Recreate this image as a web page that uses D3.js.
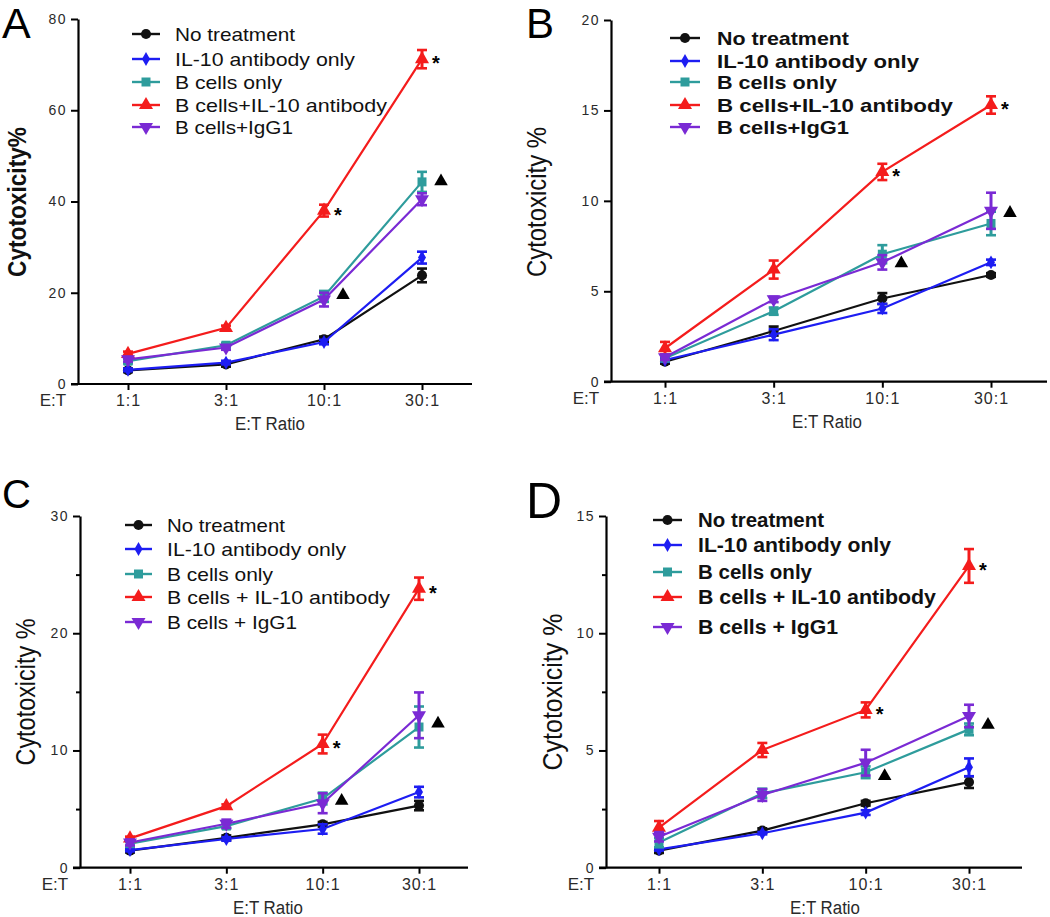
<!DOCTYPE html>
<html>
<head>
<meta charset="utf-8">
<script src="https://cdn.jsdelivr.net/npm/d3@7"></script>
<style>
  html, body { margin: 0; padding: 0; background: #fff; }
  svg { display: block; font-family: "Liberation Sans", Arial, sans-serif; }
</style>
</head>
<body>
<svg id="chart" width="1050" height="917"></svg>
<script>
// ---------- DATA ----------
const categories = ["1:1", "3:1", "10:1", "30:1"];
const seriesKeys = ["none", "il10", "bcells", "bil10", "bigg"];
const legendLabelsAB = ["No treatment", "IL-10 antibody only", "B cells only", "B cells+IL-10 antibody", "B cells+IgG1"];
const legendLabelsCD = ["No treatment", "IL-10 antibody only", "B cells only", "B cells + IL-10 antibody", "B cells + IgG1"];

// Panel A
const aNone  = [3.0, 4.3, 9.8, 23.8];   const aNoneErr  = [0.4, 0.5, 0.6, 1.5];
const aIl10  = [3.1, 4.7, 9.2, 27.7];   const aIl10Err  = [0.3, 0.4, 0.5, 1.3];
const aBcell = [5.0, 8.5, 19.2, 44.3];  const aBcellErr = [0.5, 0.5, 1.2, 2.2];
const aBil10 = [6.6, 12.3, 38.0, 71.2]; const aBil10Err = [0.5, 0.5, 1.3, 2.0];
const aBigg  = [5.4, 8.0, 18.5, 40.5];  const aBiggErr  = [0.5, 0.5, 1.5, 1.3];
const aTriangles = [19.5, 44.4]; // at 10:1 and 30:1

// Panel B
const bNone  = [1.1, 2.8, 4.6, 5.9];    const bNoneErr  = [0.1, 0.25, 0.3, 0.1];
const bIl10  = [1.2, 2.6, 4.05, 6.6];   const bIl10Err  = [0.1, 0.3, 0.25, 0.15];
const bBcell = [1.3, 3.9, 7.05, 8.75];  const bBcellErr = [0.15, 0.2, 0.5, 0.65];
const bBil10 = [1.85, 6.2, 11.6, 15.3]; const bBil10Err = [0.35, 0.5, 0.45, 0.48];
const bBigg  = [1.35, 4.55, 6.6, 9.45]; const bBiggErr  = [0.15, 0.15, 0.4, 1.0];
const bTriangles = [6.55, 9.33];

// Panel C
const cNone  = [1.45, 2.55, 3.7, 5.3];   const cNoneErr  = [0.15, 0.2, 0.2, 0.4];
const cIl10  = [1.5, 2.45, 3.3, 6.45];   const cIl10Err  = [0.1, 0.15, 0.4, 0.45];
const cBcell = [2.05, 3.55, 5.9, 12.0];  const cBcellErr = [0.2, 0.2, 0.5, 1.75];
const cBil10 = [2.5, 5.25, 10.55, 23.8]; const cBil10Err = [0.15, 0.15, 0.8, 0.95];
const cBigg  = [2.15, 3.75, 5.5, 13.0];  const cBiggErr  = [0.25, 0.35, 0.85, 1.95];
const cTriangles = [5.7, 12.3];

// Panel D
const dNone  = [0.73, 1.58, 2.75, 3.65]; const dNoneErr  = [0.1, 0.1, 0.1, 0.25];
const dIl10  = [0.78, 1.47, 2.35, 4.28]; const dIl10Err  = [0.05, 0.05, 0.1, 0.38];
const dBcell = [1.07, 3.17, 4.07, 5.9];  const dBcellErr = [0.2, 0.2, 0.25, 0.25];
const dBil10 = [1.71, 5.02, 6.73, 12.87];const dBil10Err = [0.28, 0.3, 0.32, 0.72];
const dBigg  = [1.32, 3.1, 4.48, 6.47];  const dBiggErr  = [0.2, 0.25, 0.55, 0.48];
const dTriangles = [3.91, 6.09];

const starCategories = ["10:1", "30:1"];
const yTicksA = [0, 20, 40, 60, 80];
const yTicksB = [0, 5, 10, 15, 20];
const yTicksC = [0, 10, 20, 30];
const yTicksD = [0, 5, 10, 15];
const yMinorC = [5, 15, 25];
const yMinorD = [2.5, 7.5, 12.5];

// ---------- STYLE ----------
const colors = { none: "#111111", il10: "#1d1df2", bcells: "#2e9c9c", bil10: "#f41c1c", bigg: "#7a2ad4" };
const symbols = {
  none:   { type: d3.symbolCircle,   size: 80,  rot: 0 },
  il10:   { type: d3.symbolDiamond,  size: 55,  rot: 0 },
  bcells: { type: d3.symbolSquare,   size: 81,  rot: 0 },
  bil10:  { type: d3.symbolTriangle, size: 85,  rot: 0 },
  bigg:   { type: d3.symbolTriangle, size: 85,  rot: 180 }
};

const panels = [
  { letter: "A", letterX: 2, letterY: 38, letterSize: 43,
    axisX: 78, yTop: 19, yBottom: 384, yMax: 80, ticks: yTicksA, minor: [],
    xFirst: 128, xLast: 422, xEnd: 472, ratioX: 270,
    title: "Cytotoxicity%", titleX: 26, titleY: 202, titleSize: 26, titleWeight: "bold", titleLen: 150,
    values: [aNone, aIl10, aBcell, aBil10, aBigg], errs: [aNoneErr, aIl10Err, aBcellErr, aBil10Err, aBiggErr],
    tri: aTriangles, labels: legendLabelsAB,
    legend: { x1: 132, x2: 160, tx: 175, rows: [34, 59, 82, 105, 127], size: 19, weight: "normal",
              lens: [120, 180, 107, 212, 118] } },
  { letter: "B", letterX: 526, letterY: 38, letterSize: 42,
    axisX: 611, yTop: 20, yBottom: 381.7, yMax: 20, ticks: yTicksB, minor: [],
    xFirst: 665, xLast: 991, xEnd: 1047, ratioX: 827,
    title: "Cytotoxicity %", titleX: 546, titleY: 202, titleSize: 27, titleWeight: "normal", titleLen: 150,
    values: [bNone, bIl10, bBcell, bBil10, bBigg], errs: [bNoneErr, bIl10Err, bBcellErr, bBil10Err, bBiggErr],
    tri: bTriangles, labels: legendLabelsAB,
    legend: { x1: 670, x2: 700, tx: 717, rows: [38, 61, 82, 105, 127], size: 18.5, weight: "bold",
              lens: [132, 202, 120, 236, 132] } },
  { letter: "C", letterX: 2, letterY: 508, letterSize: 40,
    axisX: 80, yTop: 516, yBottom: 867.7, yMax: 30, ticks: yTicksC, minor: yMinorC,
    xFirst: 130, xLast: 419, xEnd: 468, ratioX: 268,
    title: "Cytotoxicity %", titleX: 35, titleY: 692, titleSize: 27, titleWeight: "normal", titleLen: 147,
    values: [cNone, cIl10, cBcell, cBil10, cBigg], errs: [cNoneErr, cIl10Err, cBcellErr, cBil10Err, cBiggErr],
    tri: cTriangles, labels: legendLabelsCD,
    legend: { x1: 125, x2: 152, tx: 167, rows: [525, 549, 574, 597, 622], size: 18.5, weight: "normal",
              lens: [118, 179, 106, 223, 130] } },
  { letter: "D", letterX: 526, letterY: 518, letterSize: 50,
    axisX: 606, yTop: 516, yBottom: 867.7, yMax: 15, ticks: yTicksD, minor: yMinorD,
    xFirst: 659, xLast: 969, xEnd: 1022, ratioX: 825,
    title: "Cytotoxicity %", titleX: 562, titleY: 692, titleSize: 28, titleWeight: "normal", titleLen: 157,
    values: [dNone, dIl10, dBcell, dBil10, dBigg], errs: [dNoneErr, dIl10Err, dBcellErr, dBil10Err, dBiggErr],
    tri: dTriangles, labels: legendLabelsCD,
    legend: { x1: 653, x2: 682, tx: 698, rows: [520, 545, 572, 597, 627], size: 20, weight: "bold",
              lens: [126, 193, 114, 238, 140] } }
];

const svg = d3.select("#chart");

function symbolPath(key) {
  return d3.symbol().type(symbols[key].type).size(symbols[key].size)();
}

panels.forEach(p => {
  const g = svg.append("g");
  const x = d3.scalePoint().domain(categories).range([p.xFirst, p.xLast]);
  const y = d3.scaleLinear().domain([0, p.yMax]).range([p.yBottom, p.yTop]);

  // panel letter
  g.append("text").attr("x", p.letterX).attr("y", p.letterY)
    .attr("font-size", p.letterSize).attr("fill", "#000").text(p.letter);

  // y axis
  const yAxis = d3.axisLeft(y).tickValues(p.ticks).tickSize(7).tickPadding(4).tickSizeOuter(0)
    .tickFormat(d3.format("d"));
  const ya = g.append("g").attr("transform", `translate(${p.axisX},0)`).call(yAxis);
  ya.select(".domain").attr("stroke", "#000").attr("stroke-width", 2.2);
  ya.selectAll(".tick line").attr("stroke", "#000").attr("stroke-width", 2);
  ya.selectAll(".tick text").attr("font-size", 14).attr("fill", "#2a2a2a")
    .attr("letter-spacing", "1.5px").attr("font-family", "'Liberation Sans', Arial, sans-serif");
  if (p.minor.length) {
    const ym = g.append("g").attr("transform", `translate(${p.axisX},0)`)
      .call(d3.axisLeft(y).tickValues(p.minor).tickSize(4).tickFormat(""));
    ym.select(".domain").remove();
    ym.selectAll(".tick line").attr("stroke", "#000").attr("stroke-width", 2);
  }

  // x axis
  const xAxis = d3.axisBottom(x).tickSize(6).tickPadding(6).tickSizeOuter(0);
  const xa = g.append("g").attr("transform", `translate(0,${p.yBottom})`).call(xAxis);
  xa.select(".domain").remove();
  xa.append("line").attr("x1", p.axisX - 7).attr("x2", p.xEnd).attr("y1", 0).attr("y2", 0)
    .attr("stroke", "#000").attr("stroke-width", 2.2);
  xa.selectAll(".tick line").attr("stroke", "#000").attr("stroke-width", 2);
  xa.selectAll(".tick text").attr("font-size", 16).attr("fill", "#2a2a2a")
    .attr("letter-spacing", "1px").attr("font-family", "'Liberation Sans', Arial, sans-serif")
    .attr("dy", null).attr("y", 22);

  g.append("text").attr("x", p.axisX - 25).attr("y", p.yBottom + 22)
    .attr("text-anchor", "middle").attr("font-size", 17).attr("fill", "#2a2a2a").text("E:T");
  g.append("text").attr("x", p.ratioX).attr("y", p.yBottom + 46)
    .attr("text-anchor", "middle").attr("font-size", 18).attr("fill", "#2a2a2a")
    .attr("textLength", 70).attr("lengthAdjust", "spacingAndGlyphs").text("E:T Ratio");

  // y title
  g.append("text").attr("transform", `translate(${p.titleX},${p.titleY}) rotate(-90)`)
    .attr("text-anchor", "middle").attr("font-size", p.titleSize).attr("font-weight", p.titleWeight)
    .attr("fill", "#111").attr("textLength", p.titleLen).attr("lengthAdjust", "spacingAndGlyphs")
    .text(p.title);

  // series
  const line = d3.line().x((d, i) => x(categories[i])).y(d => y(d));
  seriesKeys.forEach((key, si) => {
    const vals = p.values[si], errs = p.errs[si], col = colors[key];
    const sg = g.append("g");
    sg.append("path").datum(vals).attr("d", line).attr("fill", "none")
      .attr("stroke", col).attr("stroke-width", 2.2);
    vals.forEach((v, i) => {
      const cx = x(categories[i]);
      const e = errs[i];
      const yt = y(v + e), yb = y(v - e);
      sg.append("line").attr("x1", cx).attr("x2", cx).attr("y1", yt).attr("y2", yb)
        .attr("stroke", col).attr("stroke-width", 3);
      [yt, yb].forEach(yy => sg.append("line").attr("x1", cx - 5).attr("x2", cx + 5)
        .attr("y1", yy).attr("y2", yy).attr("stroke", col).attr("stroke-width", 2.6));
      sg.append("path").attr("d", symbolPath(key))
        .attr("transform", `translate(${cx},${y(v)}) rotate(${symbols[key].rot})`)
        .attr("fill", col);
    });
  });

  // significance annotations
  const redVals = p.values[3];
  starCategories.forEach((c, k) => {
    const i = categories.indexOf(c);
    g.append("text").attr("x", x(c) + 10).attr("y", y(redVals[i]) + 11)
      .attr("font-size", 20).attr("font-weight", "bold").attr("fill", "#000").text("*");
    g.append("path").attr("d", d3.symbol().type(d3.symbolTriangle).size(80)())
      .attr("transform", `translate(${x(c) + 19},${y(p.tri[k])})`).attr("fill", "#000");
  });

  // legend
  const L = p.legend;
  seriesKeys.forEach((key, si) => {
    const ry = L.rows[si], col = colors[key];
    g.append("line").attr("x1", L.x1).attr("x2", L.x2).attr("y1", ry).attr("y2", ry)
      .attr("stroke", col).attr("stroke-width", 2.4);
    g.append("path").attr("d", symbolPath(key))
      .attr("transform", `translate(${(L.x1 + L.x2) / 2},${ry}) rotate(${symbols[key].rot})`)
      .attr("fill", col);
    g.append("text").attr("x", L.tx).attr("y", ry).attr("dy", "0.36em")
      .attr("font-size", L.size).attr("font-weight", L.weight).attr("fill", "#111")
      .attr("textLength", L.lens[si]).attr("lengthAdjust", "spacingAndGlyphs")
      .text(p.labels[si]);
  });
});
</script>
</body>
</html>
